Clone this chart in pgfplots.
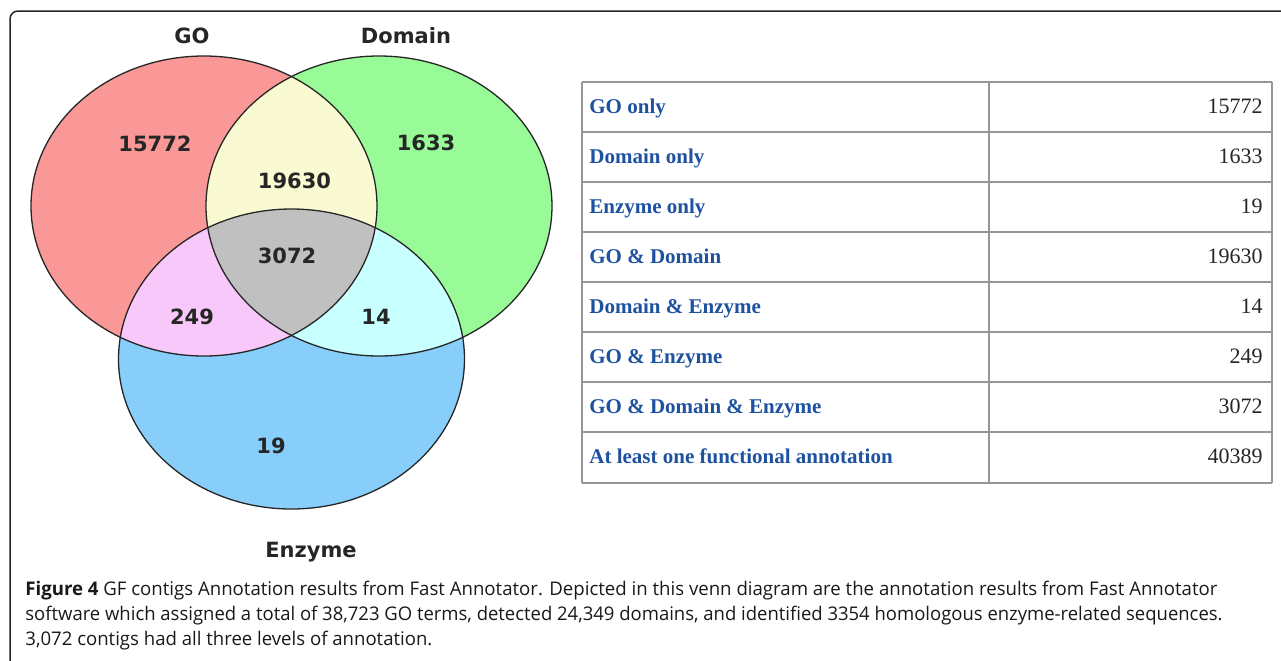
\documentclass[border=0pt]{standalone}
\usepackage{fontspec}
\setmainfont{Open Sans}
\newfontfamily\vennfont{DejaVu Sans}
\newfontfamily\tabfont{Liberation Serif}
\usepackage{graphicx}
\usepackage{pgfplots}
\pgfplotsset{compat=1.18}

\definecolor{goRed}{RGB}{250,152,152}
\definecolor{domGreen}{RGB}{152,251,152}
\definecolor{enzBlue}{RGB}{135,206,250}
\definecolor{goDom}{RGB}{250,250,210}
\definecolor{goEnz}{RGB}{248,200,250}
\definecolor{domEnz}{RGB}{200,255,255}
\definecolor{allThree}{RGB}{192,192,192}
\definecolor{tabBlue}{RGB}{30,82,160}
\definecolor{tabLine}{RGB}{150,150,150}

% region counts, placed at the centre of each region (pixel coords)
\pgfplotstableread[col sep=comma]{
x,y,n
155,143.5,15772
426,143,1633
294.5,180.5,19630
287,256,3072
192,317,249
376,317,14
271,445.5,19
}\vennnums

% one ellipse size for all three sets
\tikzset{venn/.style={x radius=86.5pt, y radius=75pt}}

\begin{document}
\begin{tikzpicture}
\begin{axis}[name=ax,
    width=640.5pt, height=330pt, scale only axis,
    xmin=0, xmax=1281, ymin=0, ymax=660, y dir=reverse,
    axis lines=none, xtick=\empty, ytick=\empty]

% frame (right and bottom edges fall outside the picture)
\draw[black!85, line width=0.75pt, rounded corners=4pt]
  (axis cs:1290,11) -- (axis cs:10,11) -- (axis cs:10,668) -- (axis cs:1290,668);

% venn fills
\fill[goRed] (axis cs:204,206) ellipse [venn];
\fill[domGreen] (axis cs:379,206) ellipse [venn];
\fill[enzBlue] (axis cs:291.5,359) ellipse [venn];
\begin{scope}
  \clip (axis cs:204,206) ellipse [venn];
  \fill[goDom] (axis cs:379,206) ellipse [venn];
  \fill[goEnz] (axis cs:291.5,359) ellipse [venn];
  \clip (axis cs:379,206) ellipse [venn];
  \fill[allThree] (axis cs:291.5,359) ellipse [venn];
\end{scope}
\begin{scope}
  \clip (axis cs:379,206) ellipse [venn];
  \fill[domEnz] (axis cs:291.5,359) ellipse [venn];
  \clip (axis cs:204,206) ellipse [venn];
  \fill[allThree] (axis cs:291.5,359) ellipse [venn];
\end{scope}
\draw[black!85, line width=0.65pt] (axis cs:204,206) ellipse [venn];
\draw[black!85, line width=0.65pt] (axis cs:379,206) ellipse [venn];
\draw[black!85, line width=0.65pt] (axis cs:291.5,359) ellipse [venn];

% set names
\node[anchor=base, inner sep=0pt, font=\vennfont\bfseries\fontsize{10.5}{12}\selectfont, text=black!85] at (axis cs:192,43.5) {GO};
\node[anchor=base, inner sep=0pt, font=\vennfont\bfseries\fontsize{10.5}{12}\selectfont, text=black!85] at (axis cs:406,43.5) {Domain};
\node[anchor=base, inner sep=0pt, font=\vennfont\bfseries\fontsize{10.5}{12}\selectfont, text=black!85] at (axis cs:311,557) {Enzyme};

% counts
\addplot[draw=none, mark=none, nodes near coords, point meta=explicit symbolic,
  every node near coord/.append style={anchor=center, inner sep=0pt,
    font=\vennfont\bfseries\fontsize{10.5}{12}\selectfont, text=black!85}]
  table[x=x, y=y, meta=n] {\vennnums};

% table grid
\pgfplotsinvokeforeach{82,132,182,232,282,332,382,432,482.5}{
  \draw[tabLine, line width=1pt] (axis cs:582,#1) -- (axis cs:1272,#1);
}
\draw[tabLine, line width=1pt] (axis cs:582,82) -- (axis cs:582,482.5);
\draw[tabLine, line width=1pt] (axis cs:989,82) -- (axis cs:989,482.5);
\draw[tabLine, line width=1pt] (axis cs:1272,82) -- (axis cs:1272,482.5);

% table labels
\addplot[draw=none, mark=none, nodes near coords, point meta=explicit symbolic,
  every node near coord/.append style={anchor=base west, inner sep=0pt,
    font=\tabfont\bfseries\fontsize{10.5}{12}\selectfont, text=tabBlue}]
  coordinates {(589,113) [GO only] (589,163) [Domain only] (589,213) [Enzyme only]
    (589,263) [GO \& Domain] (589,313) [Domain \& Enzyme] (589,363) [GO \& Enzyme]
    (589,413) [GO \& Domain \& Enzyme] (589,463) [At least one functional annotation]};

% table values
\addplot[draw=none, mark=none, nodes near coords, point meta=explicit symbolic,
  every node near coord/.append style={anchor=base east, inner sep=0pt,
    font=\tabfont\fontsize{11}{13}\selectfont, text=black!85}]
  coordinates {(1263,113) [15772] (1263,163) [1633] (1263,213) [19]
    (1263,263) [19630] (1263,313) [14] (1263,363) [249]
    (1263,413) [3072] (1263,463) [40389]};

% caption
\node[anchor=base west, inner sep=0pt, font=\fontsize{9.4}{11}\selectfont, text=black!90] at (axis cs:25,595)
  {\resizebox{596pt}{\height}{\textbf{Figure 4} GF contigs Annotation results from Fast Annotator. Depicted in this venn diagram are the annotation results from Fast Annotator}};
\node[anchor=base west, inner sep=0pt, font=\fontsize{9.4}{11}\selectfont, text=black!90] at (axis cs:25,620)
  {\resizebox{598.5pt}{\height}{software which assigned a total of 38,723 GO terms, detected 24,349 domains, and identified 3354 homologous enzyme-related sequences.}};
\node[anchor=base west, inner sep=0pt, font=\fontsize{9.4}{11}\selectfont, text=black!90] at (axis cs:25,645.5)
  {\resizebox{203.5pt}{\height}{3,072 contigs had all three levels of annotation.}};
\end{axis}
\pgfresetboundingbox
\path[use as bounding box] (ax.south west) rectangle (ax.north east);
\end{tikzpicture}
\end{document}
